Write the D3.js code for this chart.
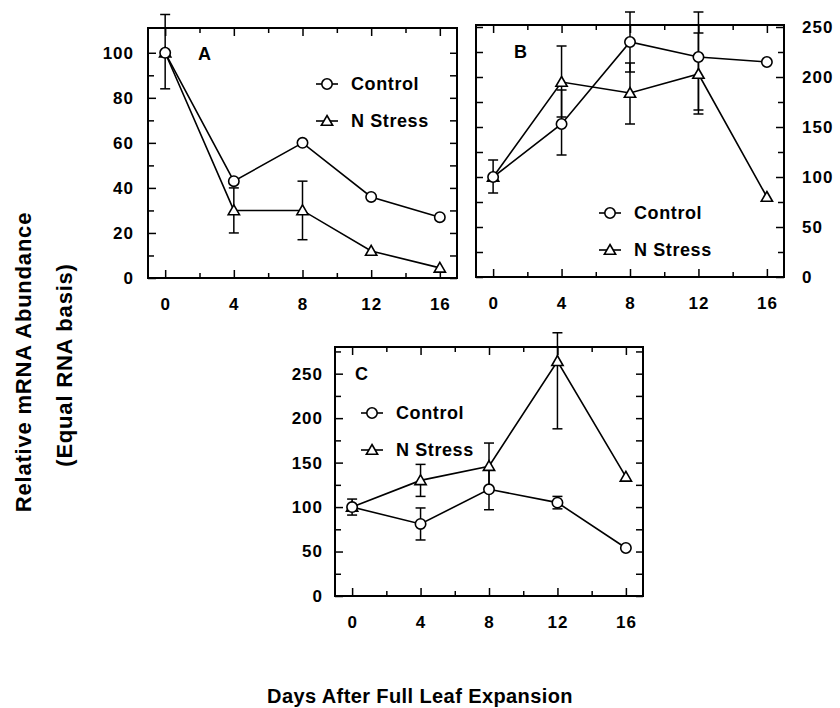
<!DOCTYPE html>
<html>
<head>
<meta charset="utf-8">
<script src="https://cdn.jsdelivr.net/npm/d3@7"></script>
<style>
  body { margin: 0; background: #fff; }
  svg { display: block; font-family: "Liberation Sans", Arial, Helvetica, sans-serif; font-weight: bold; }
</style>
</head>
<body>
<svg id="chart" width="840" height="708"></svg>
<script>
const days = [0, 4, 8, 12, 16];
const dayTicks = [0, 4, 8, 12, 16];
const dayMinorTicks = [2, 6, 10, 14];
const seriesNames = ["Control", "N Stress"];

// panel A
const controlA = [100, 43, 60, 36, 27];
const stressA = [100, 30, 30, 12, 4.5];
const controlAErr = [[84, 117], null, null, null, null];
const stressAErr = [null, [20, 40], [17, 43], null, null];
const yTicksA = [0, 20, 40, 60, 80, 100];
const yMinorA = [10, 30, 50, 70, 90];

// panel B
const controlB = [100, 153, 235, 220, 215];
const stressB = [100, 195, 184, 203, 80];
const controlBErr = [[84, 117], [122, 187], [205, 265], [167, 265], null];
const stressBErr = [null, [160, 231], [153, 214], [163, 244], null];
const yTicksB = [0, 50, 100, 150, 200, 250];
const yMinorB = [25, 75, 125, 175, 225];

// panel C
const controlC = [100, 81, 120, 105, 54];
const stressC = [100, 130, 146, 264, 134];
const controlCErr = [[91, 109], [63, 99], [97, 143], [98, 112], null];
const stressCErr = [null, [112, 148], [120, 172], [188, 296], null];
const yTicksC = [0, 50, 100, 150, 200, 250];
const yMinorC = [25, 75, 125, 175, 225, 275];

const panels = [
  { label: "A", control: controlA, stress: stressA, controlErr: controlAErr, stressErr: stressAErr,
    yMax: 111, yTicks: yTicksA, yMinor: yMinorA, side: "left", pad: 14,
    left: 148, right: 457, top: 28, bottom: 278, labelAt: [198, 60], legendAt: [327, 84] },
  { label: "B", control: controlB, stress: stressB, controlErr: controlBErr, stressErr: stressBErr,
    yMax: 252, yTicks: yTicksB, yMinor: yMinorB, side: "right", pad: 18,
    left: 476, right: 784, top: 25, bottom: 277, labelAt: [514, 58], legendAt: [610, 213] },
  { label: "C", control: controlC, stress: stressC, controlErr: controlCErr, stressErr: stressCErr,
    yMax: 280, yTicks: yTicksC, yMinor: yMinorC, side: "left", pad: 12,
    left: 335, right: 643, top: 347, bottom: 596, labelAt: [355, 380], legendAt: [372, 413] }
];

const svg = d3.select("#chart");
const font = '"Liberation Sans", Arial, Helvetica, sans-serif';

const styleAxis = sel => {
  sel.select(".domain").remove();
  sel.attr("font-family", font).attr("font-size", 17);
  sel.selectAll("line").attr("stroke", "#000").attr("stroke-width", 1.5);
  sel.selectAll("text").attr("fill", "#000").style("letter-spacing", "1px");
};

function marker(sel, type, x, y) {
  if (type === 0) {
    sel.append("circle").attr("cx", x).attr("cy", y).attr("r", 5.2)
      .attr("fill", "#fff").attr("stroke", "#000").attr("stroke-width", 1.6);
  } else {
    sel.append("path").attr("d", d3.symbol(d3.symbolTriangle, 55)())
      .attr("transform", `translate(${x},${y + 1})`)
      .attr("fill", "#fff").attr("stroke", "#000").attr("stroke-width", 1.6);
  }
}

function drawPanel(p) {
  const x = d3.scaleLinear([-1, 17], [p.left, p.right]);
  const y = d3.scaleLinear([0, p.yMax], [p.bottom, p.top]);
  const g = svg.append("g");

  // ticks on all four sides, pointing inward
  g.append("g").attr("transform", `translate(0,${p.bottom})`)
    .call(d3.axisBottom(x).tickValues(dayTicks).tickSizeInner(-8).tickSizeOuter(0).tickPadding(20))
    .call(styleAxis);
  g.append("g").attr("transform", `translate(0,${p.bottom})`)
    .call(d3.axisBottom(x).tickValues(dayMinorTicks).tickSizeInner(-5).tickSizeOuter(0).tickFormat(""))
    .call(styleAxis);
  g.append("g").attr("transform", `translate(0,${p.top})`)
    .call(d3.axisTop(x).tickValues(dayTicks).tickSizeInner(-8).tickSizeOuter(0).tickFormat(""))
    .call(styleAxis);
  g.append("g").attr("transform", `translate(0,${p.top})`)
    .call(d3.axisTop(x).tickValues(dayMinorTicks).tickSizeInner(-5).tickSizeOuter(0).tickFormat(""))
    .call(styleAxis);

  const labelled = p.side === "left" ? d3.axisLeft(y) : d3.axisRight(y);
  const plain = p.side === "left" ? d3.axisRight(y) : d3.axisLeft(y);
  const labelledX = p.side === "left" ? p.left : p.right;
  const plainX = p.side === "left" ? p.right : p.left;
  g.append("g").attr("transform", `translate(${labelledX},0)`)
    .call(labelled.tickValues(p.yTicks).tickSizeInner(-8).tickSizeOuter(0).tickPadding(p.pad))
    .call(styleAxis);
  g.append("g").attr("transform", `translate(${labelledX},0)`)
    .call((p.side === "left" ? d3.axisLeft(y) : d3.axisRight(y))
      .tickValues(p.yMinor).tickSizeInner(-6).tickSizeOuter(0).tickFormat(""))
    .call(styleAxis);
  g.append("g").attr("transform", `translate(${plainX},0)`)
    .call(plain.tickValues(p.yTicks.concat(p.yMinor)).tickSizeInner(-7).tickSizeOuter(0).tickFormat(""))
    .call(styleAxis);

  g.append("rect")
    .attr("x", p.left).attr("y", p.top)
    .attr("width", p.right - p.left).attr("height", p.bottom - p.top)
    .attr("fill", "none").attr("stroke", "#000").attr("stroke-width", 2);

  // error bars
  const bars = [];
  [p.controlErr, p.stressErr].forEach(errs => errs.forEach((e, i) => { if (e) bars.push({ day: days[i], lo: e[0], hi: e[1] }); }));
  const eb = g.append("g").attr("stroke", "#000").attr("stroke-width", 1.5);
  bars.forEach(b => {
    const bx = x(b.day);
    eb.append("line").attr("x1", bx).attr("x2", bx).attr("y1", y(b.lo)).attr("y2", y(b.hi));
    eb.append("line").attr("x1", bx - 5).attr("x2", bx + 5).attr("y1", y(b.lo)).attr("y2", y(b.lo));
    eb.append("line").attr("x1", bx - 5).attr("x2", bx + 5).attr("y1", y(b.hi)).attr("y2", y(b.hi));
  });

  const line = d3.line().x((d, i) => x(days[i])).y(d => y(d));
  [p.stress, p.control].forEach(vals => {
    g.append("path").attr("d", line(vals))
      .attr("fill", "none").attr("stroke", "#000").attr("stroke-width", 1.6);
  });
  p.stress.forEach((v, i) => marker(g, 1, x(days[i]), y(v)));
  p.control.forEach((v, i) => marker(g, 0, x(days[i]), y(v)));

  g.append("text").attr("x", p.labelAt[0]).attr("y", p.labelAt[1])
    .attr("font-size", 18).text(p.label);

  // legend
  seriesNames.forEach((name, k) => {
    const lx = p.legendAt[0], ly = p.legendAt[1] + k * 37;
    g.append("line").attr("x1", lx - 11).attr("x2", lx + 11).attr("y1", ly).attr("y2", ly)
      .attr("stroke", "#000").attr("stroke-width", 1.6);
    marker(g, k, lx, ly);
    g.append("text").attr("x", lx + 24).attr("y", ly).attr("dy", "0.36em")
      .attr("font-size", 18).style("letter-spacing", "0.6px").text(name);
  });
}

panels.forEach(drawPanel);

svg.append("text").attr("x", 420).attr("y", 703).attr("text-anchor", "middle")
  .attr("font-size", 20).style("letter-spacing", "0.4px").text("Days After Full Leaf Expansion");

svg.append("text").attr("transform", "translate(23,362) rotate(-90)")
  .attr("text-anchor", "middle").attr("dy", "0.36em").attr("font-size", 22)
  .style("letter-spacing", "0.8px")
  .text("Relative mRNA Abundance");
svg.append("text").attr("transform", "translate(64,365) rotate(-90)")
  .attr("text-anchor", "middle").attr("dy", "0.36em").attr("font-size", 22)
  .style("letter-spacing", "0.8px")
  .text("(Equal RNA basis)");
</script>
</body>
</html>
